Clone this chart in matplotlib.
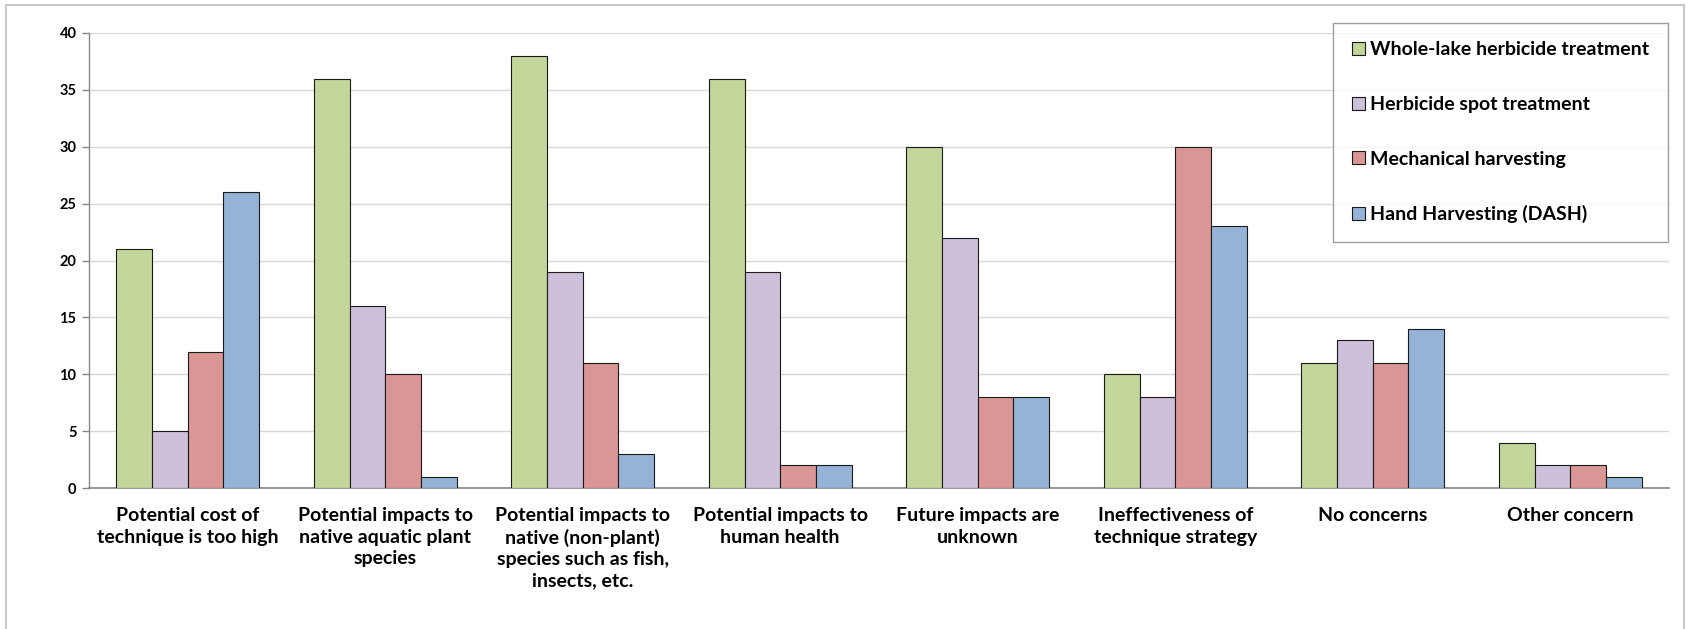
import matplotlib
matplotlib.use("Agg")
import matplotlib.pyplot as plt
import numpy as np
from matplotlib.patches import Rectangle

categories = [
    "Potential cost of\ntechnique is too high",
    "Potential impacts to\nnative aquatic plant\nspecies",
    "Potential impacts to\nnative (non-plant)\nspecies such as fish,\ninsects, etc.",
    "Potential impacts to\nhuman health",
    "Future impacts are\nunknown",
    "Ineffectiveness of\ntechnique strategy",
    "No concerns",
    "Other concern",
]
series_names = [
    "Whole-lake herbicide treatment",
    "Herbicide spot treatment",
    "Mechanical harvesting",
    "Hand Harvesting (DASH)",
]
whole_lake = [21, 36, 38, 36, 30, 10, 11, 4]
spot = [5, 16, 19, 19, 22, 8, 13, 2]
mechanical = [12, 10, 11, 2, 8, 30, 11, 2]
hand = [26, 1, 3, 2, 8, 23, 14, 1]
yticks = [0, 5, 10, 15, 20, 25, 30, 35, 40]

colors = ["#C3D69B", "#CCC0DA", "#D99694", "#95B3D7"]

plt.rcParams['font.family'] = ['Lato', 'DejaVu Sans']

W, H = 1688, 629
fig = plt.figure(figsize=(W / 100, H / 100), dpi=100)
fig.patches.append(Rectangle((6 / W, -0.05), (1684 - 6) / W, 1 - 5 / H + 0.05,
                             transform=fig.transFigure, fill=False,
                             edgecolor="#C8C8C8", linewidth=1.5, zorder=0))
ax = fig.add_axes([89 / W, 1 - 488 / H, (1669 - 89) / W, (488 - 33) / H])

x = np.arange(len(categories))
bw = 0.181
data = [whole_lake, spot, mechanical, hand]
for i, (vals, name, c) in enumerate(zip(data, series_names, colors)):
    ax.bar(x + (i - 1.5) * bw, vals, width=bw, color=c, edgecolor="#1a1a1a",
           linewidth=0.8, label=name, zorder=3)

ax.set_xlim(-0.5, len(categories) - 0.5)
ax.set_ylim(0, 40)
ax.set_yticks(yticks)
ax.set_yticklabels([str(v) for v in yticks], fontsize=10.5, fontweight="bold")
ax.set_xticks(x)
ax.set_xticklabels(categories, fontsize=14, fontweight="bold", linespacing=1.3)
ax.tick_params(axis="x", length=0, pad=14)
ax.tick_params(axis="y", length=5, width=1, color="#868686", pad=4)
ax.grid(axis="y", color="#D9D9D9", linewidth=1, zorder=0)
for s in ["top", "right"]:
    ax.spines[s].set_visible(False)
ax.spines["left"].set_color("#868686")
ax.spines["bottom"].set_color("#868686")
ax.spines["left"].set_linewidth(1)
ax.spines["bottom"].set_linewidth(1.2)

leg = ax.legend(loc="upper right", bbox_to_anchor=(1668 / W, 1 - 23 / H),
                bbox_transform=fig.transFigure, frameon=True, fancybox=False,
                edgecolor="#868686", prop={"weight": "bold", "size": 14},
                handlelength=0.65, handleheight=0.65, handletextpad=0.3,
                labelspacing=1.93, borderpad=0.95, borderaxespad=0)
leg.get_frame().set_linewidth(1)

fig.savefig("out.png", dpi=100)
